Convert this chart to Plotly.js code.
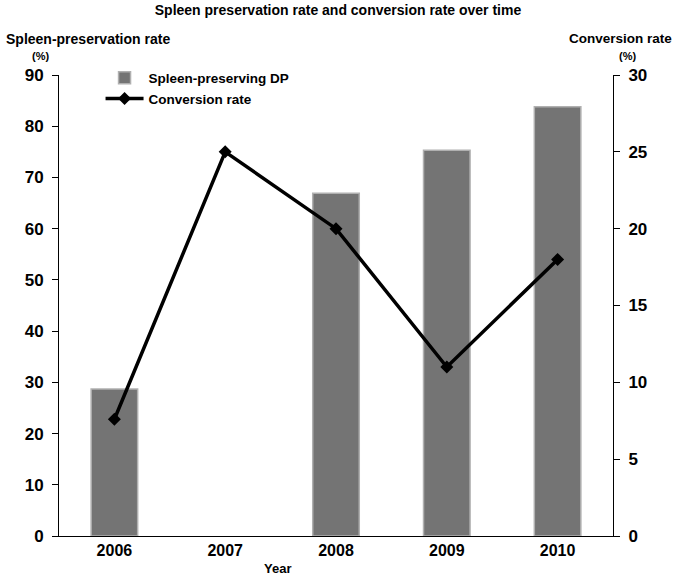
<!DOCTYPE html>
<html>
<head>
<meta charset="utf-8">
<script src="https://cdn.plot.ly/plotly-3.0.1.min.js"></script>
<style>
  html, body { margin:0; padding:0; background:#fff; }
  #grafica { width:676px; height:576px; }
</style>
</head>
<body>
<div id="grafica"></div>
<script>
const years = ['2006', '2007', '2008', '2009', '2010'];
const spleenRate = [28.7, null, 66.9, 75.3, 83.8];
const conversionRate = [7.6, 25, 20, 11, 18];

const narrow = 'Liberation Sans Narrow, Arial Narrow, Liberation Sans, Arial, sans-serif';
const plain = 'Liberation Sans, Arial, sans-serif';

const traces = [
    {
        x: years,
        y: spleenRate,
        type: 'bar',
        name: 'Spleen-preserving DP',
        width: 0.42,
        marker: {
            color: '#747474',
            line: { color: '#b0b0b0', width: 1.5 }
        }
    },
    {
        x: years,
        y: conversionRate,
        yaxis: 'y2',
        mode: 'lines+markers',
        name: 'Conversion rate',
        line: { color: 'black', width: 3.5 },
        marker: { symbol: 'diamond', color: 'black', size: 10 }
    }
];

const axisBase = {
    showgrid: false,
    zeroline: false,
    showline: true,
    linecolor: 'black',
    linewidth: 1,
    ticks: 'outside',
    ticklen: 6,
    tickcolor: 'black',
    ticklabelstandoff: 5,
    tickfont: { family: plain, size: 17, color: 'black', weight: 'bold' }
};

const layout = {
    width: 676,
    height: 576,
    margin: { l: 59, r: 63, t: 75, b: 40 },
    paper_bgcolor: 'white',
    plot_bgcolor: 'white',
    title: {
        text: '<b>Spleen preservation rate and conversion rate over time</b>',
        font: { family: narrow, size: 14, color: 'black' },
        x: 0.5,
        xanchor: 'center',
        y: 0.983,
        yanchor: 'middle'
    },
    xaxis: Object.assign({}, axisBase, {
        type: 'category',
        ticks: '',
        ticklabelstandoff: 0,
        tickfont: { family: plain, size: 16, color: 'black', weight: 'bold' }
    }),
    yaxis: Object.assign({}, axisBase, {
        range: [0, 90],
        dtick: 10
    }),
    yaxis2: Object.assign({}, axisBase, {
        range: [0, 30],
        dtick: 5,
        overlaying: 'y',
        side: 'right'
    }),
    showlegend: true,
    legend: {
        x: 0.075,
        y: 1.027,
        xanchor: 'left',
        yanchor: 'top',
        itemwidth: 38,
        bgcolor: 'rgba(0,0,0,0)',
        font: { family: narrow, size: 13.5, color: 'black', weight: 'bold' },
        tracegroupgap: 6
    },
    annotations: [
        {
            text: '<b>Spleen-preservation rate</b>',
            xref: 'paper', yref: 'paper',
            x: -0.1, y: 1.079, xanchor: 'left', yanchor: 'middle',
            showarrow: false,
            font: { family: narrow, size: 14, color: 'black' }
        },
        {
            text: '<b>(%)</b>',
            xref: 'paper', yref: 'paper',
            x: -0.034, y: 1.042, xanchor: 'center', yanchor: 'middle',
            showarrow: false,
            font: { family: narrow, size: 11, color: 'black' }
        },
        {
            text: '<b>Conversion rate</b>',
            xref: 'paper', yref: 'paper',
            x: 1.11, y: 1.079, xanchor: 'right', yanchor: 'middle',
            showarrow: false,
            font: { family: narrow, size: 13.5, color: 'black' }
        },
        {
            text: '<b>(%)</b>',
            xref: 'paper', yref: 'paper',
            x: 1.027, y: 1.042, xanchor: 'center', yanchor: 'middle',
            showarrow: false,
            font: { family: narrow, size: 11, color: 'black' }
        },
        {
            text: '<b>Year</b>',
            xref: 'paper', yref: 'paper',
            x: 0.395, y: -0.0715, xanchor: 'center', yanchor: 'middle',
            showarrow: false,
            font: { family: plain, size: 13, color: 'black' }
        }
    ]
};

Plotly.newPlot('grafica', traces, layout, { staticPlot: true });
</script>
</body>
</html>
